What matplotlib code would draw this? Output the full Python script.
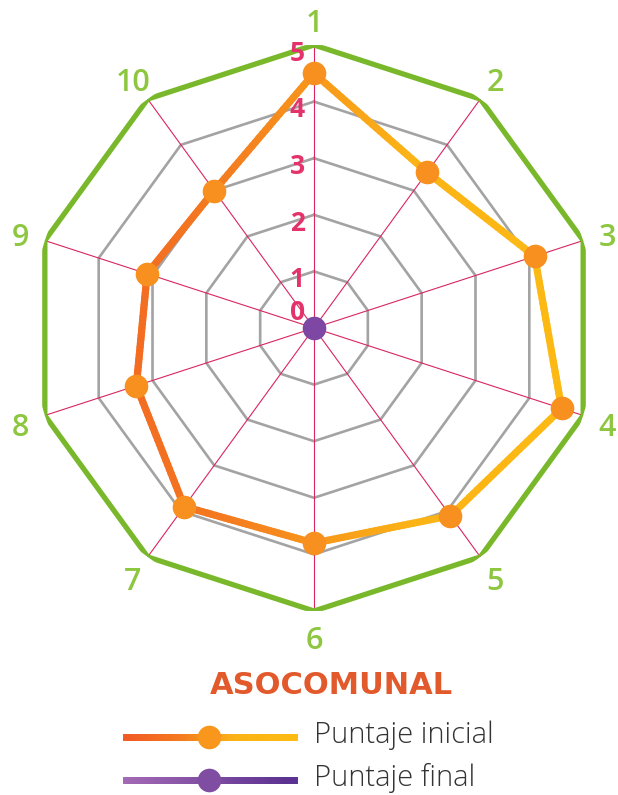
import numpy as np
import matplotlib.pyplot as plt
from matplotlib.collections import LineCollection
from matplotlib.colors import LinearSegmentedColormap

# data
axis_labels = ['1', '2', '3', '4', '5', '6', '7', '8', '9', '10']
puntaje_inicial = [4.5, 3.4, 4.1, 4.6, 4.1, 3.8, 3.9, 3.3, 3.1, 3.0]
puntaje_final = [0, 0, 0, 0, 0, 0, 0, 0, 0, 0]
levels = [1, 2, 3, 4, 5]
level_labels = ['0', '1', '2', '3', '4', '5']
title = 'ASOCOMUNAL'
legend_labels = ['Puntaje inicial', 'Puntaje final']

W, H = 618, 795
fig = plt.figure(figsize=(W / 100, H / 100), dpi=100)

cx, cy, R = 314, 328, 283
ax = fig.add_axes([(cx - R) / W, (H - cy - R) / H, 2 * R / W, 2 * R / H],
                  projection='polar')
ax.set_theta_zero_location('N')
ax.set_theta_direction(-1)
ax.set_ylim(0, 5)
ax.axis('off')

n = len(axis_labels)
theta = np.arange(n) * 2 * np.pi / n
theta_c = np.append(theta, theta[0])

orange_cmap = LinearSegmentedColormap.from_list('o', ['#F15A24', '#F47A20', '#FBB316', '#FDBB12'])
purple_cmap = LinearSegmentedColormap.from_list('p', ['#A369B4', '#5B3191'])

# spokes
for t in theta:
    ax.plot([t, t], [0, 5], color='#D9265F', lw=0.8, zorder=2)

# grey rings and outer green ring
for lv in levels[:-1]:
    ax.plot(theta_c, [lv] * (n + 1), color='#A3A3A3', lw=1.9, zorder=1)
ax.plot(theta_c, [levels[-1]] * (n + 1), color='#78B82A', lw=3.8, zorder=3,
        solid_joinstyle='miter')

# gradient line for puntaje inicial
vals = np.append(puntaje_inicial, puntaje_inicial[0])
xs = vals * np.sin(theta_c)
ys = vals * np.cos(theta_c)
segs, cols = [], []
for i in range(n):
    px = np.linspace(xs[i], xs[i + 1], 30)
    py = np.linspace(ys[i], ys[i + 1], 30)
    th = np.arctan2(px, py)
    rr = np.hypot(px, py)
    for j in range(29):
        segs.append([(th[j], rr[j]), (th[j + 1], rr[j + 1])])
        cols.append(orange_cmap((px[j] + px[j + 1]) / 2 / 10 + 0.5))
lc = LineCollection(segs, colors=cols, linewidths=5.2, capstyle='round', zorder=4)
ax.add_collection(lc)
ax.plot(theta, puntaje_inicial, 'o', ms=17, mfc='#F7901E', mec='none', zorder=5)

# puntaje final (all at the centre)
ax.plot(theta_c, np.append(puntaje_final, puntaje_final[0]), color='#7D47A3', lw=5, zorder=6)
ax.plot(theta[:1], puntaje_final[:1], 'o', ms=17, mfc='#7D47A3', mec='none', zorder=7)

# axis labels
for t, lab in zip(theta, axis_labels):
    ax.annotate(lab, xy=(t, 5.45), xytext=(0, -3.5), textcoords='offset points',
                color='#8DC63F', fontsize=22, fontfamily='Open Sans',
                fontweight='semibold', ha='center', va='center', annotation_clip=False)

# level labels
for i, lab in enumerate(level_labels):
    off = (-12, 11) if i == 0 else (-12, -6)
    ax.annotate(lab, xy=(0, i), xytext=off, textcoords='offset points',
                color='#E4336A', fontsize=19, fontfamily='Open Sans', fontweight='bold',
                ha='center', va='center', zorder=8)

# title and legend
lax = fig.add_axes([0, 0, 1, 1])
lax.set_xlim(0, W)
lax.set_ylim(H, 0)
lax.axis('off')
lax.text(331, 686, title, color='#E2592B', fontsize=22, fontfamily='DejaVu Sans',
         fontweight='bold', ha='center', va='center')
for k, (y, cmap) in enumerate([(737, orange_cmap), (780, purple_cmap)]):
    xx = np.linspace(126, 294, 60)
    lsegs = [[(xx[j], y), (xx[j + 1], y)] for j in range(59)]
    lcol = [cmap(j / 58) for j in range(59)]
    lax.add_collection(LineCollection(lsegs, colors=lcol, linewidths=5,
                                      capstyle='projecting'))
    lax.plot(209, y, 'o', ms=17, mfc=cmap(0.5), mec='none')
    lax.text(314, y - 2, legend_labels[k], color='#333333', fontsize=21,
             fontfamily='Open Sans', fontweight='light', ha='left', va='center')

fig.savefig('out.png', dpi=100)
